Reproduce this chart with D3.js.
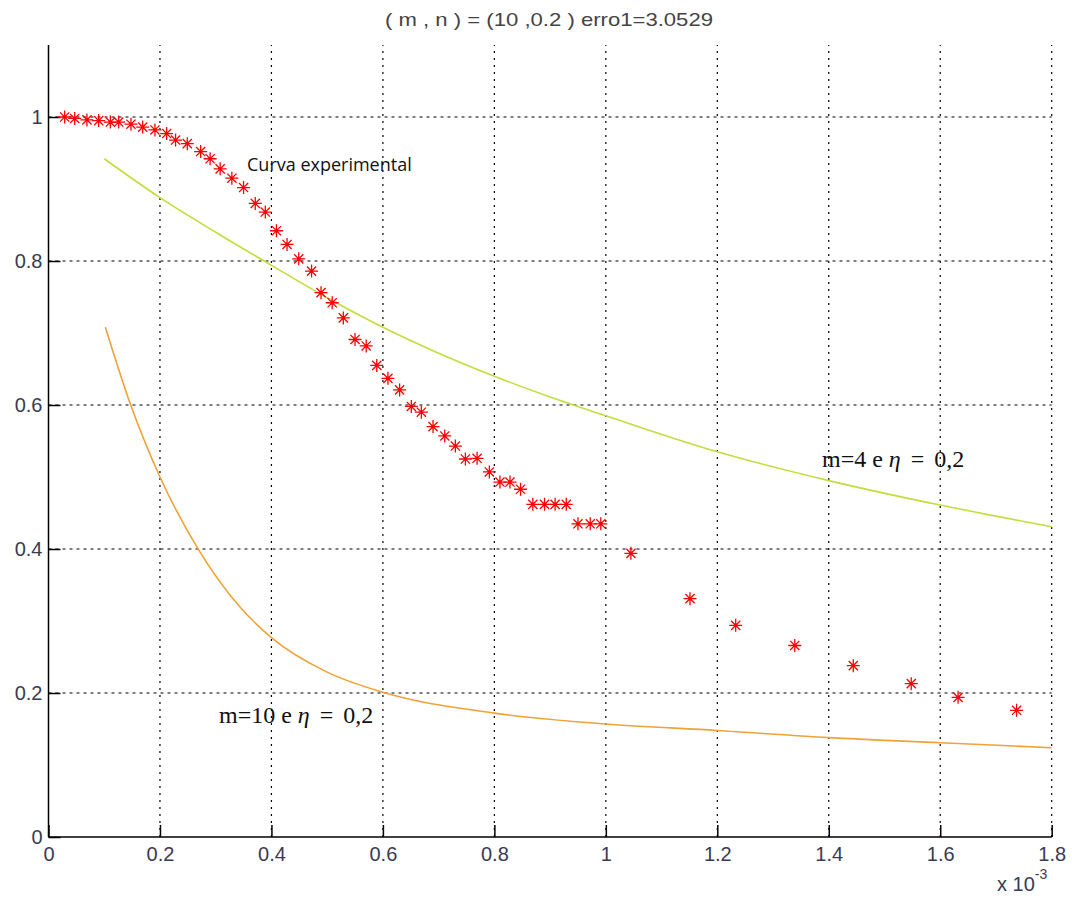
<!DOCTYPE html>
<html><head><meta charset="utf-8">
<script src="https://cdn.jsdelivr.net/npm/d3@7"></script>
<style>body{margin:0;background:#fff}</style></head><body>
<svg id="c" width="1072" height="907"></svg>
<script>
// Experimental points (x in units of 1e-3)
const expX=[0.029,0.047,0.069,0.090,0.111,0.126,0.148,0.169,0.191,0.212,0.228,0.249,0.273,0.290,0.308,0.329,0.350,0.371,0.389,0.409,0.428,0.449,0.472,0.489,0.509,0.529,0.550,0.570,0.589,0.609,0.630,0.651,0.669,0.690,0.711,0.730,0.748,0.769,0.791,0.810,0.828,0.847,0.869,0.890,0.909,0.929,0.950,0.972,0.991,1.045,1.151,1.233,1.339,1.444,1.548,1.632,1.737];
const expY=[1.000,0.998,0.996,0.995,0.993,0.993,0.990,0.986,0.982,0.977,0.968,0.963,0.952,0.942,0.928,0.915,0.902,0.880,0.868,0.842,0.823,0.803,0.786,0.756,0.742,0.721,0.691,0.682,0.655,0.637,0.621,0.598,0.590,0.570,0.557,0.543,0.525,0.526,0.507,0.493,0.493,0.483,0.462,0.462,0.462,0.462,0.435,0.435,0.435,0.394,0.331,0.294,0.266,0.238,0.213,0.194,0.176];
// Model m=4, eta=0.2
const m4X=[0.1,0.2,0.3,0.4,0.5,0.6,0.7,0.8,0.9,1.0,1.2,1.4,1.6,1.8];
const m4Y=[0.942,0.888,0.840,0.794,0.749,0.708,0.672,0.640,0.611,0.585,0.535,0.495,0.461,0.431];
// Model m=10, eta=0.2
const m10X=[0.102,0.147,0.2,0.267,0.344,0.4,0.5,0.6,0.8,1.0,1.2,1.4,1.6,1.8];
const m10Y=[0.708,0.601,0.500,0.402,0.319,0.277,0.229,0.201,0.172,0.157,0.148,0.138,0.131,0.124];
const xTicks=[0,0.2,0.4,0.6,0.8,1,1.2,1.4,1.6,1.8];
const yTicks=[0,0.2,0.4,0.6,0.8,1];
const titleText="( m , n ) = (10 ,0.2 ) erro1=3.0529";
const labelExp="Curva experimental";

const svg=d3.select("#c");
const x=d3.scaleLinear().domain([0,1.8]).range([48.5,1051.7]);
const y=d3.scaleLinear().domain([0,1.1]).range([837,45]);
const fmt=d=>String(+d.toFixed(1));

// grid
const g=svg.append("g");
g.selectAll("line.vg").data(xTicks.slice(1)).join("line")
 .attr("x1",d=>x(d)).attr("x2",d=>x(d)).attr("y1",y(0)).attr("y2",y(1.1))
 .attr("stroke","#000").attr("stroke-width",1.2).attr("stroke-dasharray","2,5");
g.selectAll("line.hg").data(yTicks.slice(1)).join("line")
 .attr("x1",x(0)).attr("x2",x(1.8)).attr("y1",d=>y(d)).attr("y2",d=>y(d))
 .attr("stroke","#000").attr("stroke-width",1.2).attr("stroke-dasharray","3,4");

// axes
const ax=svg.append("g").attr("transform",`translate(0,${y(0)})`)
 .call(d3.axisBottom(x).tickValues(xTicks).tickFormat(fmt).tickSize(-12).tickPadding(10));
const ay=svg.append("g").attr("transform",`translate(${x(0)},0)`)
 .call(d3.axisLeft(y).tickValues(yTicks).tickFormat(fmt).tickSize(-12).tickPadding(6));
[ax,ay].forEach(a=>{
  a.select(".domain").attr("stroke","#000").attr("stroke-width",1.5);
  a.selectAll(".tick line").attr("stroke","#000").attr("stroke-width",1.5);
  a.selectAll("text").attr("font-family","'Liberation Sans',Arial,sans-serif").attr("font-size",20).attr("fill","#3a3a52");
});
ay.select(".domain").attr("d",`M0,${y(1.1)}V${y(0)}`);
ax.select(".domain").attr("d",`M${x(0)},0H${x(1.8)}`);

// curves
const line=d3.line().curve(d3.curveMonotoneX);
svg.append("path").attr("d",line(m4X.map((d,i)=>[x(d),y(m4Y[i])])))
 .attr("fill","none").attr("stroke","#c4dc3c").attr("stroke-width",1.6);
svg.append("path").attr("d",line(m10X.map((d,i)=>[x(d),y(m10Y[i])])))
 .attr("fill","none").attr("stroke","#f0a238").attr("stroke-width",1.6);

// stars
const r=6.5, q=4.6;
svg.append("g").selectAll("path").data(expX.map((d,i)=>[x(d),y(expY[i])])).join("path")
 .attr("d",([cx,cy])=>`M${cx-r},${cy}H${cx+r}M${cx},${cy-r}V${cy+r}M${cx-q},${cy-q}L${cx+q},${cy+q}M${cx-q},${cy+q}L${cx+q},${cy-q}`)
 .attr("stroke","#ff0000").attr("stroke-width",1.3).attr("fill","none");

// title
svg.append("text").attr("x",549).attr("y",26).attr("text-anchor","middle")
 .attr("font-family","'Liberation Sans',Arial,sans-serif").attr("font-size",19).attr("fill","#444")
 .attr("textLength",328).attr("lengthAdjust","spacingAndGlyphs")
 .text(titleText);

// x 10^-3
const ex=svg.append("text").attr("x",997).attr("y",891)
 .attr("font-family","'Liberation Sans',Arial,sans-serif").attr("font-size",20).attr("fill","#3a3a52");
ex.append("tspan").text("x 10");
ex.append("tspan").attr("dy",-12).attr("font-size",14).text("-3");

// annotations
svg.append("text").attr("x",247).attr("y",171)
 .attr("font-family","'Open Sans',sans-serif").attr("font-size",18).attr("fill","#111").text(labelExp);
function mathLabel(px,py,m){
  const t=svg.append("text").attr("x",px).attr("y",py)
   .attr("font-family","'Liberation Serif','Times New Roman',serif").attr("font-size",24).attr("fill","#111");
  t.append("tspan").text(`m=${m} e `);
  t.append("tspan").attr("font-style","italic").text("η");
  t.append("tspan").attr("dx",10).text("=");
  t.append("tspan").attr("dx",10).text("0,2");
  return t;
}
mathLabel(822,467,4);
mathLabel(219,723,10);
</script></body></html>
